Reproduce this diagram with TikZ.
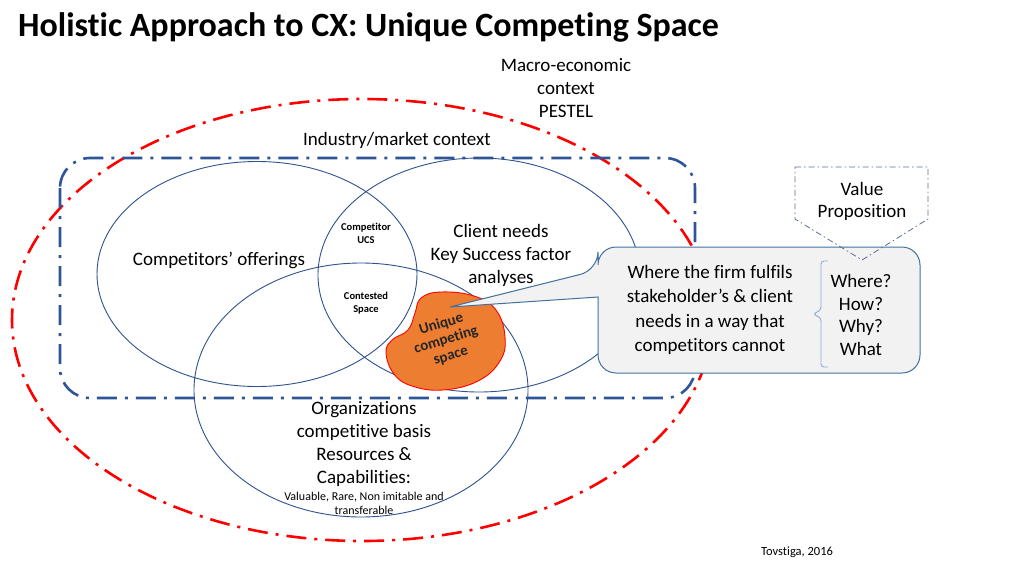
\documentclass[tikz,border=0pt]{standalone}
\usepackage{fontspec}
\setmainfont{Carlito}[Ligatures=NoCommon]
\usetikzlibrary{shapes.geometric}
\definecolor{venn}{HTML}{2F528F}
\definecolor{ind}{HTML}{2F5597}
\definecolor{redd}{HTML}{FF0000}
\definecolor{blobc}{HTML}{ED7D31}
\definecolor{callfill}{HTML}{F2F2F2}
\definecolor{callline}{HTML}{41719C}
\definecolor{vpc}{HTML}{5B6F8F}
\definecolor{brc}{HTML}{8FAADC}
\begin{document}
\begin{tikzpicture}[x=1pt,y=-1pt,
  vennc/.style={ellipse, draw=venn, line width=0.9pt, inner sep=0},
  lbl/.style={font=\fontsize{19}{23}\selectfont, align=center, inner sep=0, text=black},
  smallb/.style={font=\bfseries\fontsize{10.5}{13}\selectfont, align=center, inner sep=0},
  macro/.style={draw=redd, line width=2.6pt, dash pattern=on 20pt off 8pt on 3pt off 8pt},
  industry/.style={draw=ind, line width=2.6pt, dash pattern=on 20pt off 8pt on 3pt off 8pt},
  calloutbox/.style={draw=callline, line width=1pt, fill=callfill},
  vpbox/.style={draw=vpc, line width=0.8pt, dash pattern=on 6pt off 3pt on 1.5pt off 3pt}]
\useasboundingbox (0,0) rectangle (1024,576);
\fill[white] (0,0) rectangle (1024,576);

% title
\node[anchor=west, inner sep=0, font=\bfseries\fontsize{34}{38}\selectfont] (title) at (18,27) {Holistic Approach to CX: Unique Competing Space};

% macro-economic context
\node[macro, ellipse, minimum width=700, minimum height=442, inner sep=0] (macroell) at (362,320) {};
\node[lbl] (macrolbl) at (566,88) {Macro-economic\\context\\PESTEL};

% industry context
\draw[industry, rounded corners=30pt] (60,158) rectangle (695,398);
\node[lbl] (indlbl) at (397,140) {Industry/market context};

% Venn circles
\node[vennc, minimum width=320, minimum height=225] (comp) at (257,274) {};
\node[vennc, minimum width=322, minimum height=234] (client) at (479,275) {};
\node[vennc, minimum width=334, minimum height=254] (org) at (361,390) {};

\node[lbl] (complbl) at (219,260) {Competitors’ offerings};
\node[lbl] (clientlbl) at (501,255) {Client needs\\Key Success factor\\analyses};
\node[lbl, font=\fontsize{19}{23.3}\selectfont] (orglbl) at (364,444) {Organizations\\competitive basis\\Resources \&\\Capabilities:};
\node[inner sep=0, align=center, font=\fontsize{12}{14}\selectfont] (orgsub) at (364,503) {Valuable, Rare, Non imitable and\\transferable};
\node[smallb] (ucs) at (366,233) {Competitor\\UCS};
\node[smallb] (contested) at (366,303) {Contested\\Space};

% unique competing space blob
\draw[draw=redd, line width=0.9pt, fill=blobc] plot[smooth cycle, tension=0.7] coordinates {
  (441,292) (474,296) (496,310) (505,337) (500,361) (478,381) (443,390)
  (412,386) (394,374) (386,353) (392,340) (408,330) (415,313) (421,298)};
\node[font=\bfseries\fontsize{15}{16.5}\selectfont, align=center, inner sep=0, rotate=17, text=black!85] (ucslbl) at (446,340) {Unique\\competing\\space};
\coordinate (tip) at (450,307);

% callout
\draw[calloutbox] (598,297) [rounded corners=18pt] -- (598,373) -- (920,373) -- (920,247) -- (598,247) -- (598,270) [sharp corners] -- (tip) -- cycle;
\node[lbl, font=\fontsize{19}{24.3}\selectfont] (calltxt) at (710,310) {Where the firm fulfils\\stakeholder’s \& client\\needs in a way that\\competitors cannot};
\draw[draw=brc, line width=0.9pt, rounded corners=3pt] (828,261) -- (821,261) -- (821,310) -- (813,314) -- (821,318) -- (821,367) -- (828,367);
\node[lbl, font=\fontsize{19}{22.7}\selectfont] (whq) at (861,315) {Where?\\How?\\Why?\\What};

% value proposition
\draw[vpbox] (795,167) -- (928,167) -- (928,219) -- (862,260) -- (795,219) -- cycle;
\node[lbl, font=\fontsize{19}{22}\selectfont] (vplbl) at (862,201) {Value\\Proposition};

% source
\node[inner sep=0, font=\fontsize{12.5}{14}\selectfont] (src) at (797,552) {Tovstiga, 2016};
\end{tikzpicture}
\end{document}
